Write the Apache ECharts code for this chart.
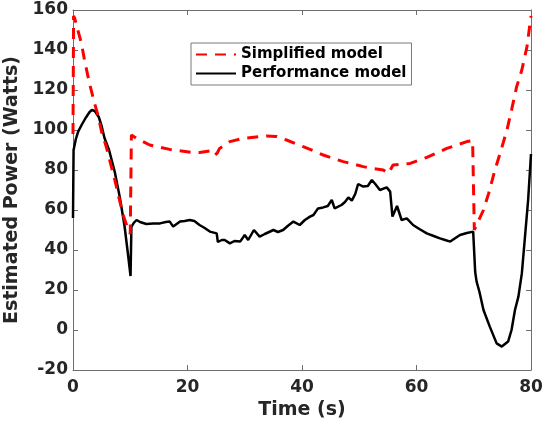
<!DOCTYPE html>
<html>
<head>
<meta charset="utf-8">
<script src="https://cdn.jsdelivr.net/npm/echarts@6/dist/echarts.min.js"></script>
<style>html,body{margin:0;padding:0;background:#fff}#c{width:543px;height:424px}</style>
</head>
<body>
<div id="c"></div>
<script>
const xTicks = [0, 20, 40, 60, 80];
const yTicks = [-20, 0, 20, 40, 60, 80, 100, 120, 140, 160];
const seriesNames = ['Simplified model', 'Performance model'];

const simplifiedTime = [0, 0.1, 0.3, 1.5, 2.0, 2.9, 3.8, 4.4, 5.0, 5.8, 7.3, 8.7, 9.6, 10.0, 10.1, 10.2, 11.1, 13.4, 16.9, 20.7, 22.1, 24.2, 24.8, 25.2, 25.6, 27.4, 29.7, 33.8, 35.5, 37.3, 40.2, 41.4, 43.7, 47.2, 50.7, 52.2, 54.2, 55.1, 55.9, 58.9, 61.8, 65.3, 68.8, 69.8, 70.1, 71.7, 72.6, 73.7, 74.6, 75.8, 76.6, 77.5, 78.4, 79.3, 80];
const simplifiedPower = [98, 157, 155.8, 143, 135, 123, 113, 107, 99, 91.7, 75, 58, 50.5, 48, 47.5, 97.5, 95.8, 92.5, 90.3, 88.8, 88.8, 89.7, 87.5, 88.5, 90.8, 94.2, 95.8, 97, 96.8, 95, 91.7, 90.3, 87.5, 84.2, 81.7, 80.8, 80, 78.3, 82.5, 83.3, 86.3, 90.8, 94.2, 94.7, 50, 60, 68.3, 80, 88.3, 100, 110, 121.7, 130, 141.7, 157];

const performanceTime = [0, 0.1, 0.5, 0.9, 1.5, 2.2, 2.9, 3.3, 3.8, 4.5, 5.0, 5.5, 6.3, 7.3, 8.2, 9.0, 9.6, 10.05, 10.2, 10.6, 11.1, 11.7, 12.8, 14, 15.2, 16.2, 16.9, 17.5, 18.7, 19.5, 20.4, 21.2, 22.1, 23.0, 23.9, 25.1, 25.3, 25.5, 26.0, 26.5, 27.4, 28.2, 29.2, 30.0, 30.6, 31.6, 32.6, 33.5, 35.0, 35.8, 36.7, 37.5, 38.5, 39.6, 40.5, 41.4, 42.0, 42.8, 43.7, 44.5, 45.2, 45.7, 46.9, 47.5, 48.1, 48.7, 49.3, 49.8, 50.7, 51.5, 52.2, 52.8, 53.6, 54.8, 55.4, 55.8, 56.6, 57.4, 58.3, 59.4, 60.5, 61.8, 63, 64.1, 65.0, 65.9, 66.8, 67.6, 68.8, 69.9, 70.15, 70.25, 70.5, 71.0, 71.7, 72.8, 74.0, 74.9, 76.0, 76.6, 77.2, 77.8, 78.4, 79.0, 79.5, 80];
const performancePower = [56, 90, 95.5, 99.2, 102.5, 106, 109, 110, 109.5, 106.5, 102, 96, 90, 79, 66, 52, 38, 27, 51.5, 53.5, 55, 54, 53, 53.2, 53.3, 54, 54.2, 51.7, 54.2, 54.5, 55, 54.5, 52.5, 51, 49.2, 48.3, 44, 43, 45, 45, 43.3, 44.5, 44.2, 47.5, 45, 50, 46.7, 48, 50, 49, 50, 52, 54.2, 52.5, 55, 56.7, 57.5, 60.8, 61.3, 62, 65, 60.8, 62.5, 64, 66.3, 64.7, 68, 73, 71.7, 72, 75, 73, 70, 71.3, 69.2, 56.7, 62, 55, 55.8, 52.5, 50.5, 48.3, 47, 45.8, 45, 44.2, 46, 47.5, 48.5, 49.2, 49.2, 29, 24.2, 19, 10, 1.7, -6.7, -8.3, -5.8, 0, 10, 16.7, 28.3, 48.3, 65, 88];

const zip = (a, b) => a.map((v, i) => [v, b[i]]);

const axisColor = '#6e6e6e';
const textColor = '#262626';
const font = 'DejaVu Sans';

const xBase = {
  type: 'value', min: xTicks[0], max: xTicks[xTicks.length - 1], interval: xTicks[1] - xTicks[0],
  axisLine: { show: true, onZero: false, lineStyle: { color: axisColor, width: 1 } },
  axisTick: { show: true, inside: true, length: 5, lineStyle: { color: axisColor } },
  splitLine: { show: false }
};
const yBase = {
  type: 'value', min: yTicks[0], max: yTicks[yTicks.length - 1], interval: yTicks[1] - yTicks[0],
  axisLine: { show: true, onZero: false, lineStyle: { color: axisColor, width: 1 } },
  axisTick: { show: true, inside: true, length: 5, lineStyle: { color: axisColor } },
  splitLine: { show: false }
};
const labelStyle = { color: textColor, fontFamily: font, fontWeight: 'bold', fontSize: 17 };

const chart = echarts.init(document.getElementById('c'), null, { renderer: 'canvas' });
chart.setOption({
  animation: false,
  backgroundColor: '#fff',
  grid: { left: 73, right: 12, top: 10, bottom: 54, containLabel: false, outerBoundsMode: 'none' },
  legend: {
    left: 191, top: 43, orient: 'vertical',
    data: seriesNames,
    borderColor: '#7a7a7a', borderWidth: 1, backgroundColor: '#fff',
    padding: [4, 5, 4, 4], itemGap: 4, itemWidth: 40, itemHeight: 14,
    itemStyle: { color: 'rgba(0,0,0,0)', borderWidth: 0, opacity: 0 },
    textStyle: { color: '#000', fontFamily: font, fontWeight: 'bold', fontSize: 15 }
  },
  xAxis: [
    Object.assign({}, xBase, {
      position: 'bottom',
      axisLabel: Object.assign({ margin: 9 }, labelStyle),
      name: 'Time (s)', nameLocation: 'middle', nameGap: 28,
      nameTextStyle: { color: textColor, fontFamily: font, fontWeight: 'bold', fontSize: 19 }
    }),
    Object.assign({}, xBase, { position: 'top', axisLabel: { show: false } })
  ],
  yAxis: [
    Object.assign({}, yBase, {
      position: 'left',
      axisLabel: Object.assign({ margin: 5 }, labelStyle),
      name: 'Estimated Power (Watts)', nameLocation: 'middle', nameGap: 46,
      nameTextStyle: { color: textColor, fontFamily: font, fontWeight: 'bold', fontSize: 19 }
    }),
    Object.assign({}, yBase, { position: 'right', axisLabel: { show: false } })
  ],
  series: [
    {
      name: seriesNames[0], type: 'line', xAxisIndex: 0, yAxisIndex: 0,
      data: zip(simplifiedTime, simplifiedPower), symbol: 'none', smooth: false,
      lineStyle: { color: '#ff0000', width: 3, type: [11, 8] }, itemStyle: { color: '#ff0000' }, z: 3
    },
    {
      name: seriesNames[1], type: 'line', xAxisIndex: 0, yAxisIndex: 0,
      data: zip(performanceTime, performancePower), symbol: 'none', smooth: false,
      lineStyle: { color: '#000000', width: 2.5 }, itemStyle: { color: '#000000' }, z: 2
    }
  ]
});
</script>
</body>
</html>
